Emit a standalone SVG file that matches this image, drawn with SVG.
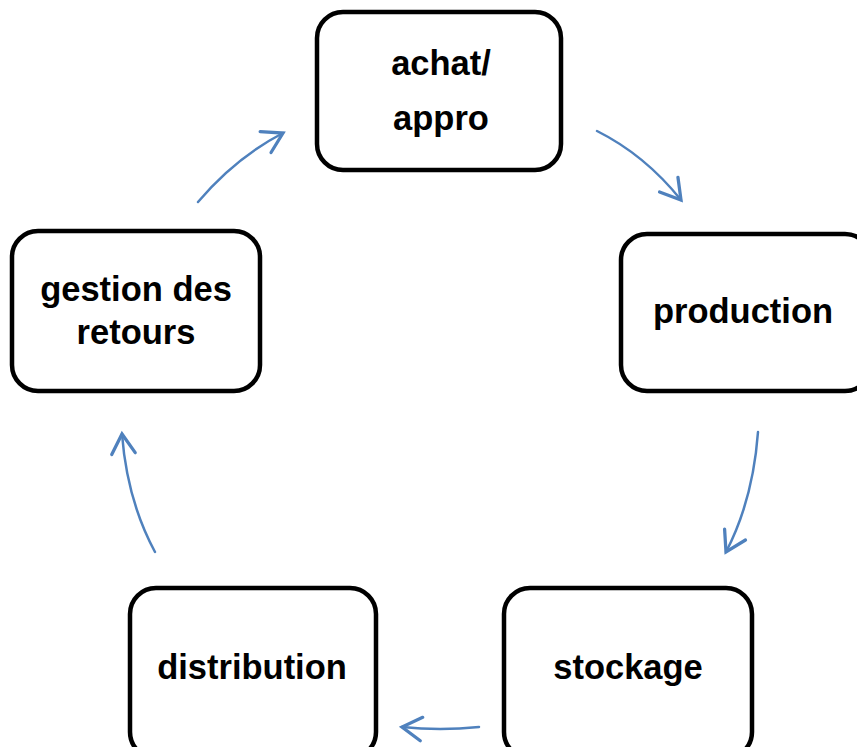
<svg xmlns="http://www.w3.org/2000/svg" width="857" height="747" viewBox="0 0 857 747">
  <style>
    .box { fill: #ffffff; stroke: #000000; stroke-width: 4.5; }
    .lbl { font-family: "Liberation Sans", Arial, sans-serif; font-weight: bold; font-size: 34.5px; fill: #000000; text-anchor: middle; }
    .flow { fill: none; stroke: #4F81BD; stroke-width: 2.5; stroke-linecap: round; marker-end: url(#chev); }
  </style>
  <defs>
    <marker id="chev" markerUnits="userSpaceOnUse" markerWidth="34" markerHeight="34" viewBox="-20 -13 24 26" refX="0" refY="0" orient="auto">
      <path d="M-15,-9 L0,0 L-15,9" fill="none" stroke="#4F81BD" stroke-width="2.5" stroke-linecap="round" stroke-linejoin="miter"/>
    </marker>
  </defs>

  <rect width="857" height="747" fill="#ffffff"/>

  <g id="connectors">
    <path class="flow" d="M597,131 Q645,155 681,200"/>
    <path class="flow" d="M758,432 Q753,500 726,552"/>
    <path class="flow" d="M479,727 Q440,731 402,727"/>
    <path class="flow" d="M155,552 Q127,500 122,434"/>
    <path class="flow" d="M198,202 Q235,158 283,133"/>
  </g>

  <g id="achat-appro">
    <rect class="box" x="317" y="12" width="244" height="158" rx="26"/>
    <text class="lbl" x="441" y="75">achat/</text>
    <text class="lbl" x="441" y="130">appro</text>
  </g>

  <g id="production">
    <rect class="box" x="621" y="234" width="250" height="157" rx="26"/>
    <text class="lbl" x="743" y="323">production</text>
  </g>

  <g id="stockage">
    <rect class="box" x="504" y="588" width="248" height="170" rx="26"/>
    <text class="lbl" x="628" y="679">stockage</text>
  </g>

  <g id="distribution">
    <rect class="box" x="130" y="588" width="246" height="170" rx="26"/>
    <text class="lbl" x="252" y="679">distribution</text>
  </g>

  <g id="gestion-des-retours">
    <rect class="box" x="12" y="231" width="248" height="160" rx="26"/>
    <text class="lbl" x="136" y="301">gestion des</text>
    <text class="lbl" x="136" y="344">retours</text>
  </g>
</svg>
